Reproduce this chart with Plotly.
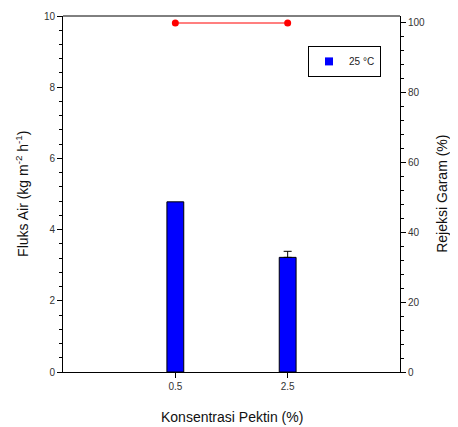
import plotly.graph_objects as go

categories = ["0.5", "2.5"]
cat_pos = [1, 2]
flux = [4.78, 3.22]
flux_err = [None, 0.17]
rejection = [100, 100]
legend_label = "25 °C"
x_title = "Konsentrasi Pektin (%)"
y_title = "Fluks Air (kg m<sup>-2</sup> h<sup>-1</sup>)"
y2_title = "Rejeksi Garam (%)"

fig = go.Figure()
fig.add_trace(go.Bar(
    x=cat_pos, y=flux, width=0.15,
    marker=dict(color="#0000ff", line=dict(color="black", width=1)),
    showlegend=False, yaxis="y",
))
# error bars only where a value exists
ex = [x for x, e in zip(cat_pos, flux_err) if e is not None]
ey = [y for y, e in zip(flux, flux_err) if e is not None]
ee = [e for e in flux_err if e is not None]
fig.add_trace(go.Scatter(
    x=ex, y=ey, mode="markers", marker=dict(size=1, opacity=0),
    error_y=dict(type="data", array=ee, symmetric=False, arrayminus=[0] * len(ee),
                 visible=True, color="black", thickness=1, width=4),
    showlegend=False, hoverinfo="skip", yaxis="y",
))
fig.add_trace(go.Scatter(
    x=cat_pos, y=rejection, mode="lines+markers",
    line=dict(color="#ff0000", width=1.2),
    marker=dict(color="#ff0000", size=7),
    showlegend=False, yaxis="y2",
))
fig.add_trace(go.Scatter(
    x=[None], y=[None], mode="markers", name=legend_label,
    marker=dict(symbol="square", color="#0000ff", size=8),
    yaxis="y",
))

font_family = "Liberation Sans, Arial, sans-serif"
title_font = dict(size=14, color="#111", family=font_family)
fig.update_layout(
    width=450, height=419,
    margin=dict(l=55, r=58, t=8, b=55, autoexpand=False),
    plot_bgcolor="white", paper_bgcolor="white",
    font=dict(family=font_family, color="#222"),
    xaxis=dict(
        range=[0, 3], tickvals=cat_pos, ticktext=categories,
        ticks="outside", ticklen=5, tickcolor="black",
        showline=True, linecolor="black", linewidth=1, mirror=False,
        showgrid=False, zeroline=False, automargin=False,
        tickfont=dict(size=10, color="#333"),
    ),
    yaxis=dict(
        range=[0, 10], dtick=2, ticks="outside", ticklen=5, tickcolor="black",
        minor=dict(dtick=0.4, ticks="outside", ticklen=3, tickcolor="black"),
        showline=True, linecolor="black", linewidth=1,
        showgrid=False, zeroline=False, automargin=False,
        tickfont=dict(size=10, color="#333"),
    ),
    yaxis2=dict(
        range=[0, 102], tickvals=[0, 20, 40, 60, 80, 100], overlaying="y", side="right",
        ticks="outside", ticklen=5, tickcolor="black",
        minor=dict(tickvals=[v for v in range(4, 100, 4) if v % 20 != 0], ticks="outside", ticklen=3, tickcolor="black"),
        showline=True, linecolor="black", linewidth=1,
        showgrid=False, zeroline=False, automargin=False,
        tickfont=dict(size=10, color="#333"),
    ),
    legend=dict(
        x=0.727, y=0.916, xanchor="left", yanchor="top",
        bordercolor="black", borderwidth=1, bgcolor="white",
        font=dict(size=10, color="#222"),
        itemwidth=30, tracegroupgap=0,
    ),
    shapes=[dict(type="line", xref="paper", yref="paper", x0=0, x1=1, y0=1, y1=1,
                 line=dict(color="black", width=1))],
    annotations=[
        dict(text=x_title, xref="paper", yref="paper", x=0.5, y=-0.127,
             xanchor="center", yanchor="middle", showarrow=False, font=title_font),
        dict(text=y_title, xref="paper", yref="paper", x=-0.122, y=0.5, textangle=-90,
             xanchor="center", yanchor="middle", showarrow=False, font=title_font),
        dict(text=y2_title, xref="paper", yref="paper", x=1.124, y=0.5, textangle=-90,
             xanchor="center", yanchor="middle", showarrow=False, font=title_font),
    ],
)

fig.write_html("out.html")
